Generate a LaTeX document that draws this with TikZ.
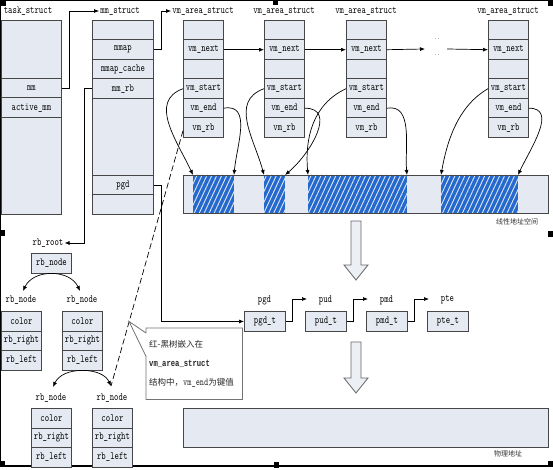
\documentclass[tikz,border=0pt]{standalone}
\usepackage{fontspec}
\setmainfont{Liberation Serif}
\newfontfamily\lblfont{lmmono10-regular.otf}[FakeStretch=0.76]
\newfontfamily\lblbold{Liberation Mono Bold}[FakeStretch=0.76]
\newfontfamily\cjkfont{Noto Sans CJK SC}
\usetikzlibrary{arrows.meta,patterns.meta,calc}
\definecolor{boxfill}{RGB}{228,233,242}
\definecolor{boxline}{RGB}{70,70,70}
\definecolor{hatchblue}{RGB}{38,105,205}
\definecolor{arrowfill}{RGB}{236,239,244}
\tikzset{
  row/.style={draw=boxline, fill=boxfill, line width=0.9pt, inner sep=0pt,
    anchor=north west, font={\lblfont\fontsize{11}{11}\selectfont}},
  ttl/.style={inner sep=1pt, font={\lblfont\fontsize{11}{11}\selectfont}},
  cjklbl/.style={inner sep=1pt, text=black!80, font={\cjkfont\fontsize{7}{8}\selectfont}},
  conn/.style={line width=0.7pt, black, -{Latex[length=5pt,width=4pt]}},
  handle/.style={fill=black},
  hollow/.style={draw=black!60, fill=arrowfill, line width=0.8pt},
  bar/.style={draw=boxline, line width=0.9pt},
}
\newcommand\rowat[6]{\node[row, minimum width=#4pt, minimum height=#5pt] (#1) at (#2,-#3) {#6};}
\begin{document}
\begin{tikzpicture}[x=1pt,y=1pt]
\useasboundingbox (0,0) rectangle (553,-470);
\fill[white] (0,0) rectangle (553,-470);

% frame and selection handles
\draw[line width=1.2pt] (0,-0.8) -- (553,-0.8);
\draw[line width=1.2pt] (0.8,0) -- (0.8,-466);
\draw[line width=1.2pt] (0,-466) -- (550,-466);
\fill[handle] (0,0) rectangle (6,-6);
\fill[handle] (273,0) rectangle (278,-5);
\fill[handle] (548,0) rectangle (553,-6);
\fill[handle] (0,-230) rectangle (5,-236);
\fill[handle] (548,-231) rectangle (553,-237);
\fill[handle] (0,-461) rectangle (5,-466);
\fill[handle] (274,-462) rectangle (279,-468);
\fill[handle] (548,-461) rectangle (553,-467);

% task_struct
\node[ttl] (ltask) at (28,-11) {task\_struct};
\rowat{t0}{1}{20}{60}{58}{}
\rowat{tmm}{1}{78}{60}{19.5}{mm}
\rowat{tam}{1}{97.5}{60}{19.5}{active\_mm}
\rowat{t3}{1}{117}{60}{97}{}

% mm_struct
\node[ttl] (lmm) at (120,-11) {mm\_struct};
\rowat{m0}{92}{20}{61}{19.5}{}
\rowat{mmap}{92}{39.5}{61}{19.5}{mmap}
\rowat{mcache}{92}{59}{61}{19.5}{mmap\_cache}
\rowat{mmrb}{92}{78.5}{61}{19.5}{mm\_rb}
\rowat{m4}{92}{98}{61}{77}{}
\rowat{mpgd}{92}{175}{61}{19.5}{pgd}
\rowat{m6}{92}{194.5}{61}{19.5}{}

% vm_area_struct boxes
\foreach \i/\x in {1/183,2/264,3/346,4/488}{
  \node[ttl] (lvm\i) at (\x+20,-11) {vm\_area\_struct};
  \rowat{v\i a}{\x}{20}{40}{19.5}{}
  \rowat{v\i next}{\x}{39.5}{40}{19.5}{vm\_next}
  \rowat{v\i b}{\x}{59}{40}{19.5}{}
  \rowat{v\i start}{\x}{78.5}{40}{19.5}{vm\_start}
  \rowat{v\i end}{\x}{98}{40}{19.5}{vm\_end}
  \rowat{v\i rb}{\x}{117.5}{40}{19.5}{vm\_rb}
}
\node[ttl, font={\lblfont\fontsize{7}{8}\selectfont}] (dots1) at (437,-39) {..};
\node[ttl, font={\lblfont\fontsize{7}{8}\selectfont}] (dots2) at (437,-55) {..};
\coordinate (dotin) at (425,-49);
\coordinate (dotout) at (447,-49);

% struct connectors
\draw[conn] (tmm.east) -- ++(7,0) |- (lmm.west);
\draw[conn] (mmap.east) -- ++(7,0) |- (lvm1.west);
\draw[conn] (v1next.east) -- (v2next.west);
\draw[conn] (v2next.east) -- (v3next.west);
\draw[conn] (v3next.east) -- (dotin);
\draw[conn] (dotout) -- (v4next.west);

% linear address bar
\draw[bar, fill=boxfill] (183,-175) rectangle (548,-213);
\foreach \a/\b in {193/234,264/285,308/407,441/518}{
  \fill[hatchblue] (\a,-175) rectangle (\b,-213);
  \path[pattern={Lines[angle=65,distance=4.5pt,line width=0.9pt]}, pattern color=white!85!hatchblue] (\a,-175) rectangle (\b,-213);
}
\draw[bar] (183,-175) rectangle (548,-213);
\node[cjklbl] (llin) at (517,-222) {线性地址空间};
\foreach \n/\x in {1/193,2/234,3/264,4/285,5/308,6/407,7/441,8/518}{
  \coordinate (b\n) at (\x,-175);
}

% vm_start / vm_end curves
\draw[conn] (v1start.west) to[out=200,in=115,looseness=1.1] (b1);
\draw[conn] (v1end.east) to[out=10,in=85,looseness=1.1] (b2);
\draw[conn] (v2start.west) to[out=200,in=105,looseness=1.1] (b3);
\draw[conn] (v2end.east) to[out=0,in=40,looseness=1.2] (b4);
\draw[conn] (v3start.west) to[out=205,in=95,looseness=1] (b5);
\draw[conn] (v3end.east) to[out=10,in=95,looseness=1] (b6);
\draw[conn] (v4start.west) to[out=210,in=80,looseness=0.9] (b7);
\draw[conn] (v4end.east) to[out=0,in=65,looseness=1.1] (b8);

% hollow arrows
\draw[hollow] (351,-221) -- (361,-221) -- (361,-265) -- (368,-265) -- (356,-280) -- (344,-265) -- (351,-265) -- cycle;
\draw[hollow] (351,-342) -- (361,-342) -- (361,-378) -- (368,-378) -- (356,-393) -- (344,-378) -- (351,-378) -- cycle;

% page tables
\foreach \n/\t/\x in {pgd/pgd/244,pud/pud/305,pmd/pmd/366,pte/pte/427}{
  \node[ttl] (l\n) at (\x+20.5,-300) {\t};
  \rowat{\n t}{\x}{311}{41}{20}{\t\_t}
}
\coordinate (cpud) at (307,-299);
\coordinate (cpmd) at (368,-299);
\coordinate (cpte) at (429,-299);
\draw[conn] (mpgd.east) -- ++(7,0) |- (pgdt.west);
\draw[conn] (pgdt.east) -- ++(6,0) |- (cpud);
\draw[conn] (pudt.east) -- ++(6,0) |- (cpmd);
\draw[conn] (pmdt.east) -- ++(6,0) |- (cpte);

% physical address bar
\draw[bar, fill=boxfill] (183,-408) rectangle (548,-447);
\node[cjklbl] (lphy) at (508,-454) {物理地址};

% red-black tree
\node[ttl] (lroot) at (48,-243) {rb\_root};
\rowat{root}{31}{253}{40}{19.5}{rb\_node}
\draw[conn] (mmrb.west) -- ++(-8,0) |- (lroot.east);

\node[ttl] (lA) at (21,-300) {rb\_node};
\rowat{Acol}{1}{311}{40}{19.5}{color}
\rowat{Ar}{1}{330.5}{40}{19.5}{rb\_right}
\rowat{Al}{1}{350}{40}{19.5}{rb\_left}
\node[ttl] (lB) at (82,-300) {rb\_node};
\rowat{Bcol}{62}{311}{40}{19.5}{color}
\rowat{Br}{62}{330.5}{40}{19.5}{rb\_right}
\rowat{Bl}{62}{350}{40}{19.5}{rb\_left}
\node[ttl] (lC) at (51,-398) {rb\_node};
\rowat{Ccol}{31}{408}{40}{19.5}{color}
\rowat{Cr}{31}{427.5}{40}{19.5}{rb\_right}
\rowat{Cl}{31}{447}{40}{19.5}{rb\_left}
\node[ttl] (lD) at (112,-398) {rb\_node};
\rowat{Dcol}{92}{408}{40}{19.5}{color}
\rowat{Dr}{92}{427.5}{40}{19.5}{rb\_right}
\rowat{Dl}{92}{447}{40}{19.5}{rb\_left}

\coordinate (cA) at (23,-291);
\coordinate (cB) at (80,-291);
\coordinate (cC) at (53,-387);
\coordinate (cD) at (111,-386);
\draw[conn] (root.south) to[out=180,in=65] (cA);
\draw[conn] (root.south) to[out=0,in=115] (cB);
\draw[conn] (Bl.south) to[out=180,in=65] (cC);
\draw[conn] (Bl.south) to[out=0,in=115] (cD);

% dashed link from vm_rb to tree
\draw[line width=0.7pt, dash pattern=on 6pt off 3pt] ($(v1rb.west)+(0,-3)$) -- (cD);
\coordinate (tip) at ($(v1rb.west)!0.75!(cD)$);

% callout
\node[anchor=north west, text width=90pt, minimum height=71pt, inner sep=3pt, align=left,
      font={\cjkfont\fontsize{8.5}{19}\selectfont}, text=black!85] (callout) at (146,-328)
  {红-黑树嵌入在\\{\lblbold\fontsize{9.5}{19}\selectfont vm\_area\_struct}\\结构中，{\lblfont\fontsize{10.5}{19}\selectfont vm\_end}为键值};
\draw[draw=black!55, line width=0.8pt]
  ($(callout.north west)+(0,-5)$) -- (callout.north west) -- (callout.north east) --
  (callout.south east) -- (callout.south west) -- ($(callout.south west)+(0,43)$) --
  (tip) -- ($(callout.north west)+(0,-5)$);
\end{tikzpicture}
\end{document}
